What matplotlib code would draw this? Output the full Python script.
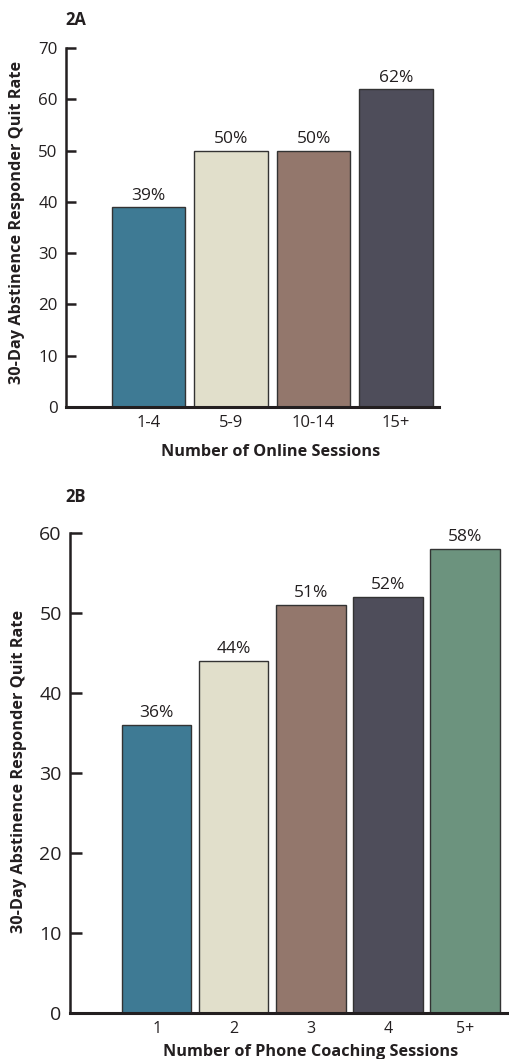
import matplotlib
matplotlib.use("Agg")
import matplotlib.pyplot as plt

plt.rcParams['font.family'] = ['Open Sans', 'DejaVu Sans']

# Panel 2A: online sessions
online_cats = ["1-4", "5-9", "10-14", "15+"]
online_rates = [39, 50, 50, 62]
online_colors = ["#3e7a94", "#e1dfcb", "#93776c", "#4e4d5a"]

# Panel 2B: phone coaching sessions
phone_cats = ["1", "2", "3", "4", "5+"]
phone_rates = [36, 44, 51, 52, 58]
phone_colors = ["#3e7a94", "#e1dfcb", "#93776c", "#4e4d5a", "#6c937e"]

ylabel = "30-Day Abstinence Responder Quit Rate"
text_color = "#231f20"

W, H = 509, 1059
fig = plt.figure(figsize=(W / 100, H / 100), dpi=100)


def panel(rect_px, cats, vals, colors, ymax, xlim, width, ytick_fs, xtick_fs,
          ytick_len, xlab, ylab_pos, xlab_pos, xtick_pad):
    left, top, right, bottom = rect_px
    ax = fig.add_axes([left / W, 1 - bottom / H, (right - left) / W, (bottom - top) / H])
    x = list(range(len(cats)))
    bars = ax.bar(x, vals, width=width, color=colors, edgecolor="#333333",
                  linewidth=1.0, zorder=2)
    for b, v in zip(bars, vals):
        ax.annotate(f"{v}%", (b.get_x() + b.get_width() / 2, v), xytext=(0, 2.5),
                    textcoords="offset points", ha="center", va="bottom",
                    fontsize=12.5, color=text_color)
    ax.set_ylim(0, ymax)
    ax.set_xlim(*xlim)
    ax.set_yticks(range(0, ymax + 1, 10))
    ax.set_xticks(x)
    ax.set_xticklabels(cats)
    for s in ("top", "right"):
        ax.spines[s].set_visible(False)
    ax.spines["left"].set_linewidth(1.8)
    ax.spines["bottom"].set_linewidth(2.2)
    ax.spines["left"].set_color(text_color)
    ax.spines["bottom"].set_color(text_color)
    ax.tick_params(axis="y", direction="in", length=ytick_len, width=1.8,
                   labelsize=ytick_fs, colors=text_color, pad=6)
    ax.tick_params(axis="x", length=0, labelsize=xtick_fs, colors=text_color, pad=xtick_pad)
    ax.set_ylabel(ylabel, fontsize=11.7, fontweight="bold", color=text_color)
    ax.set_xlabel(xlab, fontsize=11.7, fontweight="bold", color=text_color)
    ax.yaxis.set_label_coords(*ylab_pos)
    ax.xaxis.set_label_coords(*xlab_pos)
    ax.yaxis.label.set_va("center")
    ax.xaxis.label.set_va("center")
    return ax


axA = panel((66, 48, 439, 407), online_cats, online_rates, online_colors, 70,
            (-1.0, 3.52), 0.895, 12.2, 12, 7.2, "Number of Online Sessions",
            (-0.131, 0.514), (0.548, -0.125), 6)
fig.text(65 / W, 1 - 20 / H, "2A", fontsize=12, fontweight="bold",
         color=text_color, va="center", ha="left")

axB = panel((70, 532.5, 509, 1013), phone_cats, phone_rates, phone_colors, 60,
            (-1.127, 4.571), 0.898, 14, 11.5, 8.4, "Number of Phone Coaching Sessions",
            (-0.116, 0.502), (0.547, -0.0805), 5.5)
fig.text(65 / W, 1 - 497 / H, "2B", fontsize=12, fontweight="bold",
         color=text_color, va="center", ha="left")

fig.savefig("out.png", dpi=100, facecolor="white")
